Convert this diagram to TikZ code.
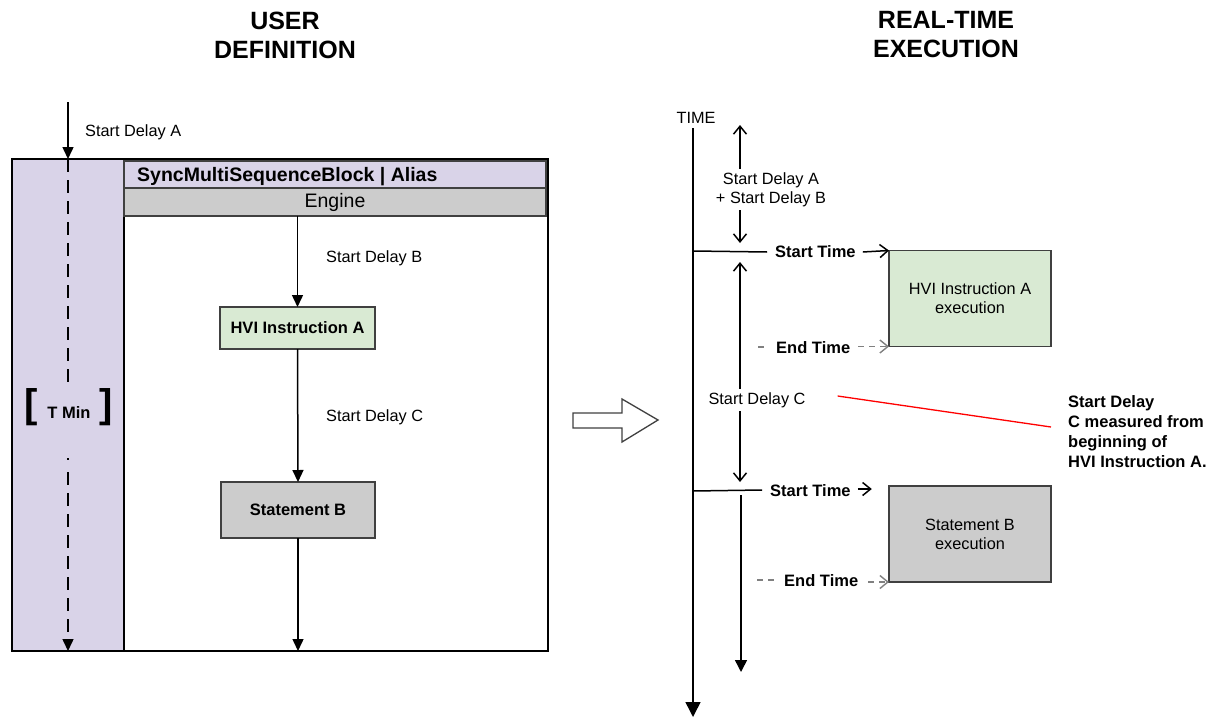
\documentclass[tikz,border=0pt]{standalone}
\usepackage{fontspec}
\setmainfont{Liberation Sans}
\usetikzlibrary{arrows.meta}
\definecolor{lav}{HTML}{D9D3E8}
\definecolor{grn}{HTML}{D9EAD3}
\definecolor{gry}{HTML}{CCCCCC}
\definecolor{edge}{HTML}{404040}
\begin{document}
\begin{tikzpicture}[x=1pt,y=-1pt,
  txt/.style={font=\fontsize{16.3}{19}\selectfont, inner sep=0pt, align=center},
  btxt/.style={font=\fontsize{16.5}{20}\selectfont\bfseries, inner sep=0pt, align=left},
  ttl/.style={font=\fontsize{25}{29}\selectfont\bfseries, align=center, inner sep=0pt},
  box/.style={draw=edge, line width=1.4pt, inner sep=0pt, outer sep=0pt},
  ln/.style={line width=1.5pt, draw=black},
  farrow/.style={ln, -{Triangle[length=12pt,width=11pt]}},
  garrow/.style={line width=1.4pt, draw=gray, dash pattern=on 6pt off 5pt, -{Straight Barb[length=8pt,width=13pt]}},
  barbs/.style={ln, {Straight Barb[length=8pt,width=13pt]}-{Straight Barb[length=8pt,width=13pt]}},
]
\useasboundingbox (0,0) rectangle (1220,717);

% titles
\node[ttl] (t1) at (285,35) {USER\\DEFINITION};
\node[ttl] (t2) at (946,35) {REAL-TIME\\EXECUTION};

% ---------- left: user definition ----------
\node[box, draw=black, minimum width=536, minimum height=492] (outer) at (280,405) {};
\node[box, draw=black, fill=lav, minimum width=112, minimum height=492] (col) at (68,405) {};
\node[box, fill=lav, minimum width=422, minimum height=27] (hdr) at (335,174.5) {};
\node[btxt, font=\fontsize{19.5}{22}\selectfont\bfseries, anchor=west] (hdrtxt) at (137,177) {SyncMultiSequenceBlock | Alias};
\node[box, fill=gry, minimum width=422, minimum height=28, font=\fontsize{19.5}{22}\selectfont] (eng) at (335,202) {Engine};

\node[box, fill=grn, minimum width=155, minimum height=42, btxt] (hvi) at (297.5,328) {HVI Instruction A};
\node[box, fill=gry, minimum width=154, minimum height=56, btxt] (stb) at (298,510) {Statement B};

\coordinate (sa0) at (68,102);
\draw[farrow] (sa0) -- (sa0 |- col.north);
\node[txt, anchor=west] (sdA) at (85,132) {Start Delay A};

\node[btxt] (tmin) at (69,413) {T Min};
\node[font=\fontsize{40}{40}\selectfont\bfseries, inner sep=0pt] (lb) at (31,407) {[};
\node[font=\fontsize{40}{40}\selectfont\bfseries, inner sep=0pt] (rb) at (106,407) {]};
\coordinate (d1) at (68,383);
\coordinate (d2) at (68,458);
\coordinate (d3) at (68,472);
\draw[ln, dash pattern=on 13pt off 8pt] (col.north) -- (d1);
\draw[ln] (d2) -- ++(0,1.5);
\draw[ln, dash pattern=on 13pt off 8pt, -{Triangle[length=12pt,width=11pt]}] (d3) -- (col.south);

\draw[farrow] (eng.south -| hvi.north) -- (hvi.north);
\node[txt, anchor=west] (sdB) at (326,258) {Start Delay B};
\draw[farrow] (hvi.south) -- (stb.north);
\node[txt, anchor=west] (sdC) at (326,417) {Start Delay C};
\draw[farrow] (stb.south) -- (stb.south |- outer.south);

% big hollow arrow
\draw[line width=1.3pt, draw=edge, fill=white] (573,413) -- (622,413) -- (622,399) -- (658,420) -- (622,442) -- (622,428) -- (573,428) -- cycle;

% ---------- right: real-time execution ----------
\node[txt] (time) at (696,118) {TIME};
\coordinate (ax0) at (693,128);
\coordinate (ax1) at (693,717);
\draw[ln, -{Triangle[length=15pt,width=15pt]}] (ax0) -- (ax1);

\node[box, fill=grn, minimum width=162, minimum height=96, txt] (exA) at (970,298.5) {HVI Instruction A\\execution};
\node[box, fill=gry, minimum width=162, minimum height=96, txt] (exB) at (970,534) {Statement B\\execution};

% start delay A+B
\coordinate (ab0) at (740,125);
\coordinate (ab1) at (740,243);
\draw[barbs] (ab0) -- (ab1);
\node[txt, fill=white, inner sep=3pt] (sdAB) at (771,189.5) {Start Delay A\\+ Start Delay B};

% start time A
\coordinate (s1) at (693,251);
\node[btxt, anchor=west] (st1) at (775,252) {Start Time};
\draw[ln] (s1) -- ([xshift=-8pt]st1.west);
\draw[ln, -{Straight Barb[length=8pt,width=13pt]}] ([xshift=7pt]st1.east) -- (exA.north west);

% end time A
\node[btxt, anchor=west] (et1) at (776,348) {End Time};
\coordinate (e1) at (758,347);
\draw[line width=1.4pt, draw=gray] (e1) -- ++(6,0);
\draw[garrow] ([xshift=8pt]et1.east |- exA.south west) -- (exA.south west);

% start delay C
\coordinate (c0) at (740,262);
\coordinate (c1) at (740,482);
\draw[barbs] (c0) -- (c1);
\node[txt, fill=white, inner sep=3pt] (sdC2) at (757,400) {Start Delay C};

% note
\draw[red, line width=1.3pt] (sdC2.east) ++(29,-4) coordinate (r0) -- (1051,427) coordinate (r1);
\node[btxt, anchor=north west, font=\fontsize{16.5}{20}\selectfont\bfseries] (note) at (1068,395) {Start Delay\\C measured from\\beginning of\\HVI Instruction A.};

% start time B
\coordinate (s2) at (693,491);
\node[btxt, anchor=west] (st2) at (770,491) {Start Time};
\draw[ln] (s2) -- (762,490);
\draw[ln, -{Straight Barb[length=8pt,width=13pt]}] ([xshift=7pt]st2.east) ++(0,-2) -- ++(14,0) coordinate (st2t);

% end time B
\node[btxt, anchor=west] (et2) at (784,581) {End Time};
\coordinate (e2) at (757,580);
\draw[line width=1.4pt, draw=gray, dash pattern=on 6pt off 5pt] (e2) -- (775,580);
\draw[garrow] ([xshift=10pt]et2.east |- exB.south west) -- (exB.south west);

% continuing arrow
\coordinate (b0) at (741,495);
\coordinate (b1) at (741,672);
\draw[ln, -{Triangle[length=12pt,width=12pt]}] (b0) -- (b1);
\end{tikzpicture}
\end{document}
